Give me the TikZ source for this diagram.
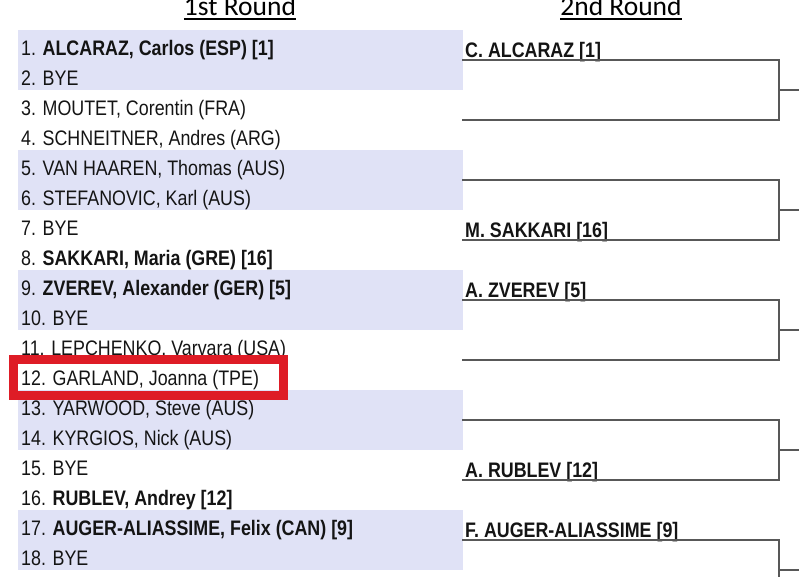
\documentclass[tikz,border=0pt]{standalone}
\usepackage{fontspec}
\setmainfont{Liberation Sans}[FakeStretch=0.85]
\newfontfamily\headfont{Carlito}
\usepackage{tikz}
\usetikzlibrary{positioning, calc}

\definecolor{bandblue}{RGB}{224,226,246}
\definecolor{linegray}{RGB}{88,88,88}
\definecolor{markred}{RGB}{222,28,38}

\begin{document}
\begin{tikzpicture}[x=1pt, y=-1pt,
    entry/.style={anchor=base west, inner sep=0pt, text=black!92, font=\fontsize{21}{24}\selectfont},
    winner/.style={entry, font=\fontsize{21}{24}\selectfont\bfseries},
    head/.style={anchor=base, inner sep=0pt, font=\headfont\fontsize{27.5}{30}\selectfont},
    band/.style={fill=bandblue},
    bracket/.style={draw=linegray, line width=1.5pt}]
    \useasboundingbox (0,0) rectangle (799,576);
    % shaded pairs of the first round
    \fill[band] (18,30) rectangle (463,90);
    \fill[band] (18,150) rectangle (463,210);
    \fill[band] (18,270) rectangle (463,330);
    \fill[band] (18,390) rectangle (463,450);
    \fill[band] (18,510) rectangle (463,570);

    \node[head] (h1) at (240,15) {1st Round};
    \node[head] (h2) at (621,15) {2nd Round};
    \draw[line width=2pt] ($(h1.base west)+(0,3.5)$) -- ($(h1.base east)+(0,3.5)$);
    \draw[line width=2pt] ($(h2.base west)+(0,3.5)$) -- ($(h2.base east)+(0,3.5)$);

    % first round
    \node[entry] (r1) at (21,55) {1. \textbf{ALCARAZ, Carlos (ESP) [1]}};
    \node[entry] (r2) at (21,85) {2. BYE};
    \node[entry] (r3) at (21,115) {3. MOUTET, Corentin (FRA)};
    \node[entry] (r4) at (21,145) {4. SCHNEITNER, Andres (ARG)};
    \node[entry] (r5) at (21,175) {5. VAN HAAREN, Thomas (AUS)};
    \node[entry] (r6) at (21,205) {6. STEFANOVIC, Karl (AUS)};
    \node[entry] (r7) at (21,235) {7. BYE};
    \node[entry] (r8) at (21,265) {8. \textbf{SAKKARI, Maria (GRE) [16]}};
    \node[entry] (r9) at (21,295) {9. \textbf{ZVEREV, Alexander (GER) [5]}};
    \node[entry] (r10) at (21,325) {10. BYE};
    \node[entry] (r11) at (21,355) {11. LEPCHENKO, Varvara (USA)};
    \node[entry] (r12) at (21,385) {12. GARLAND, Joanna (TPE)};
    \node[entry] (r13) at (21,415) {13. YARWOOD, Steve (AUS)};
    \node[entry] (r14) at (21,445) {14. KYRGIOS, Nick (AUS)};
    \node[entry] (r15) at (21,475) {15. BYE};
    \node[entry] (r16) at (21,505) {16. \textbf{RUBLEV, Andrey [12]}};
    \node[entry] (r17) at (21,535) {17. \textbf{AUGER-ALIASSIME, Felix (CAN) [9]}};
    \node[entry] (r18) at (21,565) {18. BYE};

    % highlight
    \draw[markred, line width=9pt] (13,359) rectangle (283.5,395.5);

    % second round
    \coordinate (m1a) at (462,60);  \coordinate (m1b) at (462,120);
    \coordinate (m2a) at (462,180); \coordinate (m2b) at (462,240);
    \coordinate (m3a) at (462,300); \coordinate (m3b) at (462,360);
    \coordinate (m4a) at (462,420); \coordinate (m4b) at (462,480);
    \coordinate (m5a) at (462,540); \coordinate (m5b) at (462,600);

    \node[winner] (s1) at (465,57) {C. ALCARAZ [1]};
    \node[winner] (s4) at (465,237) {M. SAKKARI [16]};
    \node[winner] (s5) at (465,297) {A. ZVEREV [5]};
    \node[winner] (s8) at (465,477) {A. RUBLEV [12]};
    \node[winner] (s9) at (465,537) {F. AUGER-ALIASSIME [9]};

    \draw[bracket] (m1a) -- ++(317,0) |- (m1b);
    \draw[bracket] (m2a) -- ++(317,0) |- (m2b);
    \draw[bracket] (m3a) -- ++(317,0) |- (m3b);
    \draw[bracket] (m4a) -- ++(317,0) |- (m4b);
    \draw[bracket] (m5a) -- ++(317,0) |- (m5b);
    \draw[bracket] (779,90) -- ++(25,0);
    \draw[bracket] (779,210) -- ++(25,0);
    \draw[bracket] (779,330) -- ++(25,0);
    \draw[bracket] (779,450) -- ++(25,0);
    \draw[bracket] (779,570) -- ++(25,0);
\end{tikzpicture}
\end{document}
